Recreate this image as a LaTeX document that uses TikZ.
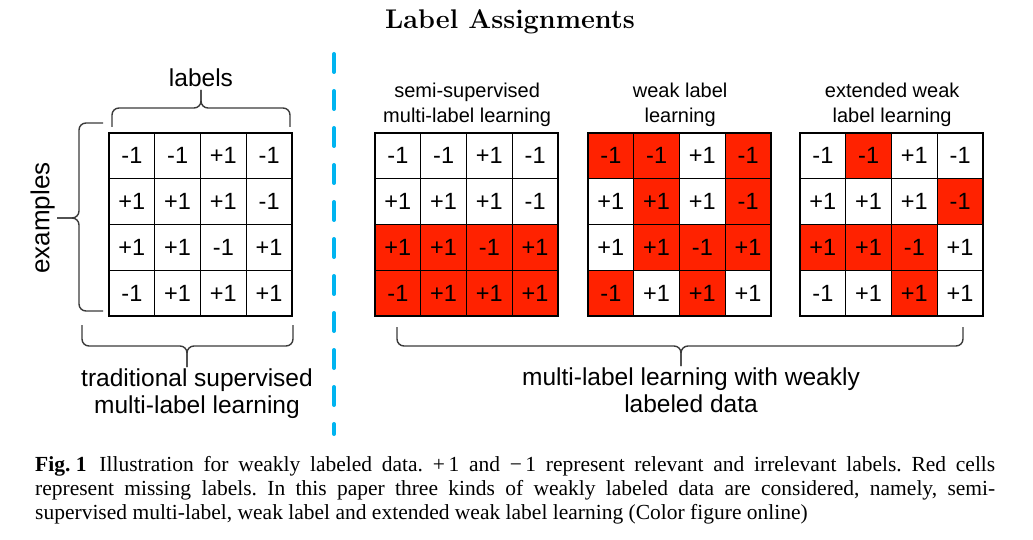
\documentclass[tikz,border=0pt]{standalone}
\usepackage{fontspec}
\setsansfont{Liberation Sans}
\newfontfamily\capfont{Liberation Serif}
\usetikzlibrary{positioning, calc, backgrounds}
\definecolor{missRed}{HTML}{FF2200}
\definecolor{splitBlue}{HTML}{00B4F0}
\definecolor{braceGray}{HTML}{3A3A3A}

\begin{document}
\begin{tikzpicture}[x=1pt, y=-1pt,
    cell/.style={draw=black, line width=1.3pt, minimum size=45.75pt, inner sep=0pt,
                 font=\sffamily\fontsize{23.5}{23.5}\selectfont},
    head/.style={font=\sffamily\fontsize{20}{25}\selectfont, align=center, inner sep=0pt},
    side/.style={font=\sffamily\fontsize{24.5}{27}\selectfont, align=center, inner sep=0pt},
    curly/.style={draw=braceGray, line width=1.4pt, rounded corners=7pt},
    capnode/.style={font=\capfont\fontsize{21.5}{24}\selectfont\frenchspacing, text width=960pt,
                    align=justify, inner sep=0pt},
  ]
  \useasboundingbox (0,0) rectangle (1033,540);

  \node[font=\bfseries\fontsize{27}{32}\selectfont] (title) at (510,22) {Label Assignments};

  % the four label matrices
  \foreach \grid/\gx in {trad/109, semi/375, weak/588, ext/800}{
    \foreach \r/\vals in {1/{-1,-1,+1,-1}, 2/{+1,+1,+1,-1}, 3/{+1,+1,-1,+1}, 4/{-1,+1,+1,+1}}{
      \foreach \v [count=\c] in \vals
        \node[cell] (\grid-\r-\c) at (\gx+45.75*\c-22.875, 133+45.75*\r-22.875) {\v};
    }
  }

  % missing labels
  \begin{scope}[on background layer]
    \foreach \m in {semi-3-1, semi-3-2, semi-3-3, semi-3-4, semi-4-1, semi-4-2, semi-4-3, semi-4-4,
                    weak-1-1, weak-1-2, weak-1-4, weak-2-2, weak-2-4, weak-3-2, weak-3-3, weak-3-4,
                    weak-4-1, weak-4-3,
                    ext-1-2, ext-2-4, ext-3-1, ext-3-2, ext-3-3, ext-4-3}
      \fill[missRed] (\m.north west) rectangle (\m.south east);
  \end{scope}

  \node[head, above=5pt of semi-1-2.north east] (semiHead) {semi-supervised\\multi-label learning};
  \node[head, above=5pt of weak-1-2.north east] (weakHead) {weak label\\learning};
  \node[head, above=5pt of ext-1-2.north east] (extHead) {extended weak\\label learning};

  % separator
  \coordinate (splitTop) at (334,54);
  \coordinate (splitBot) at (334,434);
  \draw[splitBlue, line width=4pt, line cap=round, dash pattern=on 18pt off 19pt] (splitTop) -- (splitBot);

  % braces
  \coordinate (labTip) at (201,90);
  \draw[curly] (112,127) |- (201,108) -- (labTip);
  \draw[curly] (290,127) |- (201,108) -- (labTip);
  \node[side, above=3pt of labTip] (labels) {labels};

  \coordinate (exTip) at (57,218);
  \draw[curly] (103,123) -| (79,218) -- (exTip);
  \draw[curly] (103,311) -| (79,218) -- (exTip);
  \node[side, font=\sffamily\fontsize{26}{27}\selectfont, rotate=90, anchor=south] (examples)
    at ($(exTip)+(-2,0)$) {examples};

  \coordinate (tradTip) at (187,367);
  \draw[curly] (82,325) |- (187,346) -- (tradTip);
  \draw[curly] (293,325) |- (187,346) -- (tradTip);
  \node[side, below=2pt of tradTip, xshift=10pt] (tradText) {traditional supervised\\multi-label learning};

  \coordinate (wlTip) at (681,366);
  \draw[curly] (397,327) |- (681,346) -- (wlTip);
  \draw[curly] (963,327) |- (681,346) -- (wlTip);
  \node[side, below=2pt of wlTip, xshift=10pt] (wlText) {multi-label learning with weakly\\labeled data};

  \node[capnode, anchor=north west] (caption) at (35,456) {\mbox{\textbf{Fig. 1}}\hspace{0.6em}Illustration for weakly labeled data. +\,1 and −\,1 represent relevant and irrelevant labels. Red cells\linebreak represent missing labels. In this paper three kinds of weakly labeled data are considered, namely, semi-\linebreak supervised multi-label, weak label and extended weak label learning (Color figure online)};
\end{tikzpicture}
\end{document}
